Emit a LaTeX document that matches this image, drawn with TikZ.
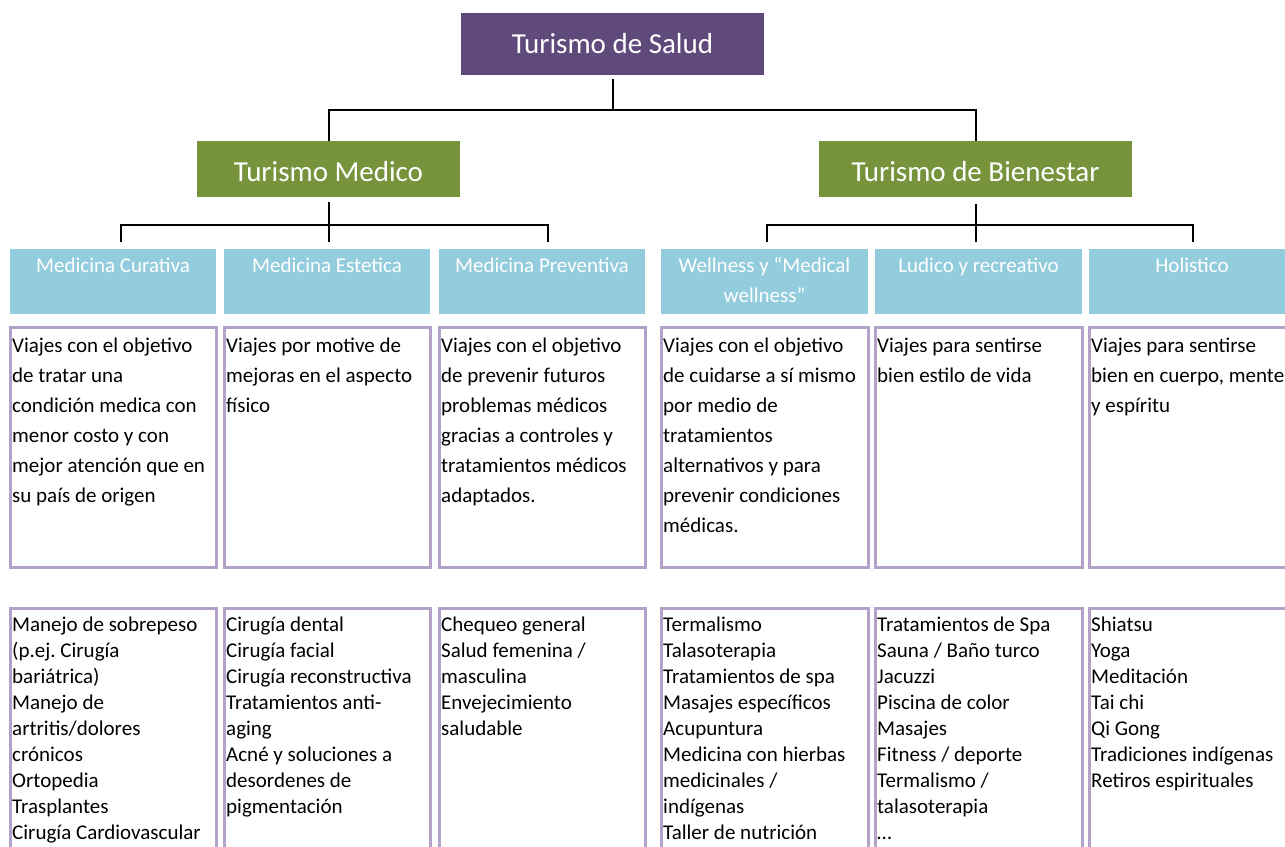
\documentclass[tikz,border=0pt]{standalone}
\usepackage{fontspec}
\setmainfont{Carlito}
\definecolor{hdrc}{HTML}{604A7B}
\definecolor{grn}{HTML}{77933C}
\definecolor{lblue}{HTML}{93CDDD}
\definecolor{lpur}{HTML}{B3A2C7}
\newcommand{\Tz}{\rule{0pt}{22pt}}
\newcommand{\lowr}[1]{\raisebox{-3pt}[\height][\depth]{#1}}
\frenchspacing
\begin{document}
\frenchspacing
\begin{tikzpicture}[x=1pt,y=-1pt,
 box/.style={rectangle, inner sep=0pt, outer sep=0pt, anchor=north west},
 hdr/.style={box, fill=hdrc, text=white, font=\fontsize{29}{35}\selectfont},
 lvl/.style={box, fill=grn, text=white, font=\fontsize{29}{35}\selectfont},
 cat/.style={box, fill=lblue, minimum width=206pt, minimum height=65pt},
 desc/.style={box, draw=lpur, line width=3pt, minimum width=206pt, minimum height=240pt},
 lst/.style={box, draw=lpur, line width=3pt, minimum width=206pt, minimum height=280pt},
 conn/.style={draw=black, line width=2pt},
 ctxt/.style={anchor=north, inner sep=0pt, align=center, text=white, font=\fontsize{21}{30}\selectfont},
 dtxt/.style={anchor=north west, inner sep=0pt, align=left, font=\fontsize{21}{30}\selectfont},
 ltxt/.style={anchor=north west, inner sep=0pt, align=left, font=\fontsize{21}{26}\selectfont}]
\useasboundingbox (0,0) rectangle (1285,846);
\clip (0,0) rectangle (1285,846);

% top levels
\node[hdr, minimum width=303pt, minimum height=62pt] (top) at (461,13) {Turismo de Salud};
\node[lvl, minimum width=263pt, minimum height=56pt] (med) at (197,141) {\lowr{Turismo Medico}};
\node[lvl, minimum width=313pt, minimum height=56pt] (bien) at (819,141) {\lowr{Turismo de Bienestar}};

% category boxes
\node[cat] (c1) at (10,249) {};
\node[cat] (c2) at (224,249) {};
\node[cat] (c3) at (439,249) {};
\node[cat, minimum width=207pt] (c4) at (661,249) {};
\node[cat, minimum width=207pt] (c5) at (875,249) {};
\node[cat] (c6) at (1089,249) {};
\node[ctxt] (ct1) at ([yshift=-1pt]c1.north) {\Tz Medicina Curativa};
\node[ctxt] (ct2) at ([yshift=-1pt]c2.north) {\Tz Medicina Estetica};
\node[ctxt] (ct3) at ([yshift=-1pt]c3.north) {\Tz Medicina Preventiva};
\node[ctxt] (ct4) at ([yshift=-1pt]c4.north) {\Tz Wellness y “Medical\\ wellness”};
\node[ctxt] (ct5) at ([yshift=-1pt]c5.north) {\Tz Ludico y recreativo};
\node[ctxt] (ct6) at ([yshift=-1pt]c6.north) {\Tz Holistico};

% connectors
\coordinate (h1) at (613,110);
\coordinate (h2) at (0,225);
\coordinate (m1) at (121,242);
\coordinate (m3) at (548,242);
\coordinate (b1) at (767,242);
\coordinate (b3) at (1193,242);
\draw[conn] ([yshift=-4pt]top.south) -- (top.south |- h1);
\draw[conn] (med.north) -- (med.north |- h1) -- (bien.north |- h1) -- (bien.north);
\draw[conn] ([yshift=-5pt]med.south) -- (med.south |- m1);
\draw[conn] (m1) -- (m1 |- h2) -- (m3 |- h2) -- (m3);
\draw[conn] ([yshift=-7pt]bien.south) -- (bien.south |- b1);
\draw[conn] (b1) -- (b1 |- h2) -- (b3 |- h2) -- (b3);

% description boxes
\node[desc] (d1) at (10,327) {};
\node[desc] (d2) at (224,327) {};
\node[desc] (d3) at (439,327) {};
\node[desc, minimum width=207pt] (d4) at (661,327) {};
\node[desc, minimum width=207pt] (d5) at (875,327) {};
\node[desc] (d6) at (1089,327) {};
\node[dtxt] (dt1) at ([xshift=2pt,yshift=-3pt]d1.north west) {\Tz Viajes con el objetivo\\ de tratar una\\ condición medica con\\ menor costo y con\\ mejor atención que en\\ su país de origen};
\node[dtxt] (dt2) at ([xshift=2pt,yshift=-3pt]d2.north west) {\Tz Viajes por motive de\\ mejoras en el aspecto\\ físico};
\node[dtxt] (dt3) at ([xshift=2pt,yshift=-3pt]d3.north west) {\Tz Viajes con el objetivo\\ de prevenir futuros\\ problemas médicos\\ gracias a controles y\\ tratamientos médicos\\ adaptados.};
\node[dtxt] (dt4) at ([xshift=2pt,yshift=-3pt]d4.north west) {\Tz Viajes con el objetivo\\ de cuidarse a sí mismo\\ por medio de\\ tratamientos\\ alternativos y para\\ prevenir condiciones\\ médicas.};
\node[dtxt] (dt5) at ([xshift=2pt,yshift=-3pt]d5.north west) {\Tz Viajes para sentirse\\ bien estilo de vida};
\node[dtxt] (dt6) at ([xshift=2pt,yshift=-3pt]d6.north west) {\Tz Viajes para sentirse\\ bien en cuerpo, mente\\ y espíritu};

% list boxes
\node[lst] (l1) at (10,608) {};
\node[lst] (l2) at (224,608) {};
\node[lst] (l3) at (439,608) {};
\node[lst, minimum width=207pt] (l4) at (661,608) {};
\node[lst, minimum width=207pt] (l5) at (875,608) {};
\node[lst] (l6) at (1089,608) {};
\node[ltxt] (lt1) at ([xshift=2pt,yshift=-1pt]l1.north west) {\Tz Manejo de sobrepeso\\ (p.ej. Cirugía\\ bariátrica)\\ Manejo de\\ artritis/dolores\\ crónicos\\ Ortopedia\\ Trasplantes\\ Cirugía Cardiovascular};
\node[ltxt] (lt2) at ([xshift=2pt,yshift=-1pt]l2.north west) {\Tz Cirugía dental\\ Cirugía facial\\ Cirugía reconstructiva\\ Tratamientos anti-\\ aging\\ Acné y soluciones a\\ desordenes de\\ pigmentación};
\node[ltxt] (lt3) at ([xshift=2pt,yshift=-1pt]l3.north west) {\Tz Chequeo general\\ Salud femenina /\\ masculina\\ Envejecimiento\\ saludable};
\node[ltxt] (lt4) at ([xshift=2pt,yshift=-1pt]l4.north west) {\Tz Termalismo\\ Talasoterapia\\ Tratamientos de spa\\ Masajes específicos\\ Acupuntura\\ Medicina con hierbas\\ medicinales /\\ indígenas\\ Taller de nutrición};
\node[ltxt] (lt5) at ([xshift=2pt,yshift=-1pt]l5.north west) {\Tz Tratamientos de Spa\\ Sauna / Baño turco\\ Jacuzzi\\ Piscina de color\\ Masajes\\ Fitness / deporte\\ Termalismo /\\ talasoterapia\\ …};
\node[ltxt] (lt6) at ([xshift=2pt,yshift=-1pt]l6.north west) {\Tz Shiatsu\\ Yoga\\ Meditación\\ Tai chi\\ Qi Gong\\ Tradiciones indígenas\\ Retiros espirituales};
\end{tikzpicture}
\end{document}
